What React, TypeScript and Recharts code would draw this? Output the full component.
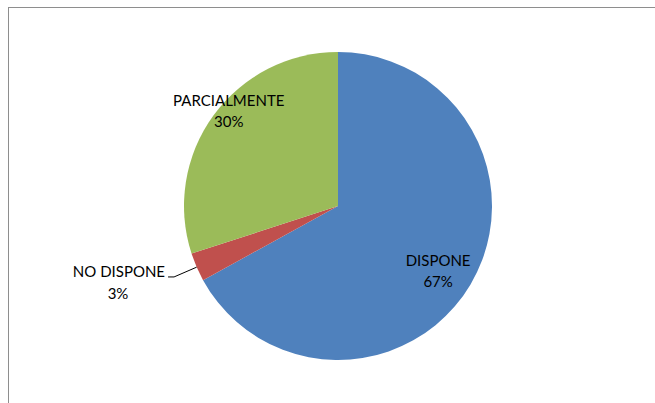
import React from "react";
import { PieChart, Pie, Cell } from "recharts";

const categories = ["DISPONE", "NO DISPONE", "PARCIALMENTE"];
const shares = [67, 3, 30];
const colors = ["#4F81BD", "#C0504D", "#9BBB59"];

// label placement: radius as a fraction of the pie radius, small angle nudge, outside or not
const labelRadius = [0.775, 1.16, 0.94];
const labelNudge = [-2.4, 0, -5];
const labelOutside = [false, true, false];

const data = categories.map((name, i) => ({ name, value: shares[i] }));

const RADIAN = Math.PI / 180;
const FONT = "Lato, 'Open Sans', sans-serif";
const FS = 15;

function renderLabel(props: any) {
  const { cx, cy, midAngle, outerRadius, index, percent } = props;
  const pct = `${Math.round(percent * 100)}%`;
  const angle = (midAngle + labelNudge[index]) * RADIAN;
  const r = outerRadius * labelRadius[index];
  const x = cx + r * Math.cos(angle);
  const y = cy - r * Math.sin(angle);

  if (labelOutside[index]) {
    const sx = cx + outerRadius * Math.cos(midAngle * RADIAN);
    const sy = cy - outerRadius * Math.sin(midAngle * RADIAN);
    const ex = x - 6;
    return (
      <g>
        <polyline
          points={`${sx},${sy} ${x},${y} ${ex},${y}`}
          fill="none"
          stroke="#000"
          strokeWidth={1}
        />
        <text x={ex - 3} y={y} textAnchor="end" fontFamily={FONT} fontSize={FS} fill="#000">
          {categories[index]}
        </text>
        <text x={ex - 50} y={y + 22} textAnchor="middle" fontFamily={FONT} fontSize={FS} fill="#000">
          {pct}
        </text>
      </g>
    );
  }

  return (
    <text x={x} y={y} textAnchor="middle" fontFamily={FONT} fontSize={FS} fill="#000">
      <tspan x={x} dy={-5}>{categories[index]}</tspan>
      <tspan x={x} dy={21}>{pct}</tspan>
    </text>
  );
}

export default function App() {
  return (
    <div style={{ position: "absolute", left: 0, top: 0, width: 655, height: 403, overflow: "hidden", background: "#fff" }}>
      <div
        style={{
          position: "absolute",
          left: 8,
          top: 7,
          width: 700,
          height: 500,
          border: "1px solid #8e8e8e",
        }}
      />
      <div style={{ position: "absolute", left: 0, top: 0 }}>
        <PieChart width={655} height={403} margin={{ top: 0, right: 0, bottom: 0, left: 0 }}>
          <Pie
            data={data}
            dataKey="value"
            nameKey="name"
            cx={338}
            cy={206}
            outerRadius={154}
            startAngle={90}
            endAngle={-270}
            stroke="none"
            labelLine={false}
            label={renderLabel}
            isAnimationActive={false}
          >
            {data.map((d, i) => (
              <Cell key={d.name} fill={colors[i]} />
            ))}
          </Pie>
        </PieChart>
      </div>
    </div>
  );
}
